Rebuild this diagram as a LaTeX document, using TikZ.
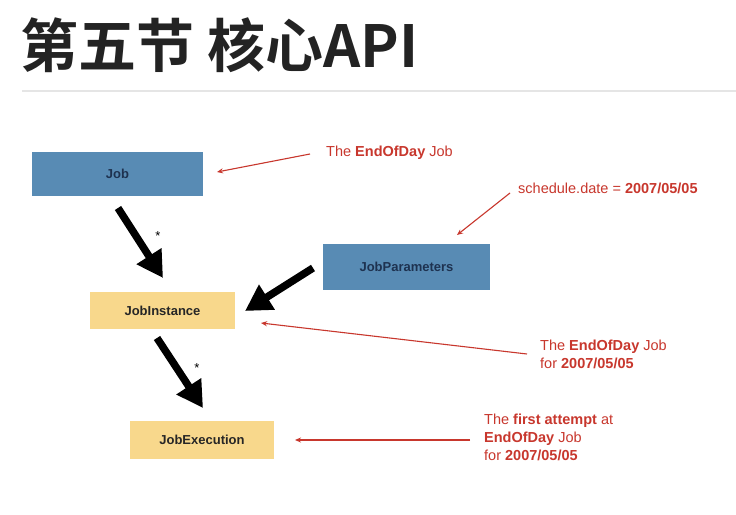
\documentclass[tikz,border=0pt]{standalone}
\usepackage{fontspec}
\setmainfont{Liberation Sans}
\newfontfamily\cjk{Noto Sans CJK SC}[BoldFont={Noto Sans CJK SC Bold}]
\usetikzlibrary{arrows.meta}
\definecolor{boxblue}{RGB}{88,139,180}
\definecolor{boxyellow}{RGB}{248,216,140}
\definecolor{navy}{RGB}{30,50,80}
\definecolor{annot}{RGB}{200,55,45}
\definecolor{titlegray}{RGB}{35,35,35}
\tikzset{
  bluebox/.style={fill=boxblue, draw=none, inner sep=0pt, font=\fontsize{13}{15}\selectfont\bfseries, text=navy},
  yellowbox/.style={fill=boxyellow, draw=none, inner sep=0pt, font=\fontsize{13}{15}\selectfont\bfseries, text=black!85},
  bigarrow/.style={line width=7.5pt, -{Triangle[length=26pt,width=28pt]}, black},
  redarrow/.style={draw=annot, line width=1.1pt, -{Stealth[length=6pt,width=5pt]}},
  note/.style={text=annot, font=\fontsize{14.5}{18}\selectfont, inner sep=0pt, align=left},
  star/.style={font=\fontsize{13}{13}\selectfont, inner sep=0pt}
}
\begin{document}
\begin{tikzpicture}[x=1pt,y=-1pt]
\useasboundingbox[fill=white] (0,0) rectangle (736,514);
\node[anchor=west, inner sep=0pt, text=titlegray, font=\cjk\bfseries\fontsize{58}{62}\selectfont] (title) at (20,45) {第五节 核心API};
\draw[gray!20, line width=1.2pt] (22,91) coordinate (hl) -- (736,91) coordinate (hr);

\node[bluebox, minimum width=171pt, minimum height=44pt] (job) at (117.5,174) {Job};
\node[bluebox, minimum width=167pt, minimum height=46pt] (params) at (406.5,267) {JobParameters};
\node[yellowbox, minimum width=145pt, minimum height=37pt] (inst) at (162.5,310.5) {JobInstance};
\node[yellowbox, minimum width=144pt, minimum height=38pt] (exec) at (202,440) {JobExecution};

\coordinate (a1s) at (118,208);
\coordinate (a1e) at (163,278);
\draw[bigarrow] (a1s) -- (a1e);
\node[star] (s1) at (158,236) {*};
\coordinate (a2s) at (313,268);
\coordinate (a2e) at (245,311);
\draw[bigarrow] (a2s) -- (a2e);
\coordinate (a3s) at (157,338);
\coordinate (a3e) at (203,408);
\draw[bigarrow] (a3s) -- (a3e);
\node[star] (s2) at (197,368) {*};

\node[note, anchor=west] (n1) at (326,153) {The \textbf{EndOfDay} Job};
\coordinate (r1s) at (310,154);
\coordinate (r1e) at (217,172);
\draw[redarrow] (r1s) -- (r1e);

\node[note, anchor=west] (n2) at (518,188) {schedule.date = \textbf{2007/05/05}};
\coordinate (r2s) at (510,193);
\coordinate (r2e) at (457,235);
\draw[redarrow] (r2s) -- (r2e);

\node[note, anchor=north west] (n3) at (540,340) {The \textbf{EndOfDay} Job\\for \textbf{2007/05/05}};
\coordinate (r3s) at (527,354);
\coordinate (r3e) at (261,323);
\draw[redarrow] (r3s) -- (r3e);

\node[note, anchor=north west] (n4) at (484,414) {The \textbf{first attempt} at\\\textbf{EndOfDay} Job\\for \textbf{2007/05/05}};
\coordinate (r4s) at (470,440);
\coordinate (r4e) at (295,440);
\draw[redarrow] (r4s) -- (r4e);
\end{tikzpicture}
\end{document}
